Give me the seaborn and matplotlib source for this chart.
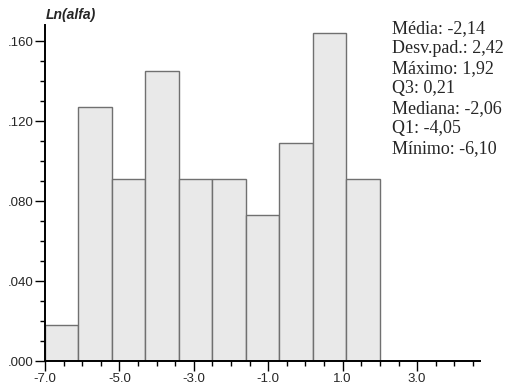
import matplotlib
matplotlib.use("Agg")
import matplotlib.pyplot as plt
import numpy as np
import seaborn as sns
from matplotlib.ticker import MultipleLocator, FuncFormatter

sns.set_theme(style="white")
plt.rcParams['font.family'] = ['Liberation Sans', 'DejaVu Sans']

# Histogram of Ln(alfa): bin edges and relative frequencies
bin_edges = [-7.0, -6.1, -5.2, -4.3, -3.4, -2.5, -1.6, -0.7, 0.2, 1.1, 2.0]
rel_freq = [0.018, 0.127, 0.091, 0.145, 0.091, 0.091, 0.073, 0.109, 0.164, 0.091]

stats_lines = [
    "Média: -2,14",
    "Desv.pad.: 2,42",
    "Máximo: 1,92",
    "Q3: 0,21",
    "Mediana: -2,06",
    "Q1: -4,05",
    "Mínimo: -6,10",
]

x_ticks = [-7.0, -5.0, -3.0, -1.0, 1.0, 3.0]
y_ticks = [0.0, 0.04, 0.08, 0.12, 0.16]

centers = [(a + b) / 2 for a, b in zip(bin_edges[:-1], bin_edges[1:])]

W, H = 511, 390
fig = plt.figure(figsize=(W / 100, H / 100), dpi=100)
ax = fig.add_axes([45 / W, 29 / H, (480 - 45) / W, (361 - 25) / H])

sns.histplot(x=centers, weights=rel_freq, bins=bin_edges, stat="count",
             color="#e9e9e9", edgecolor="#707070", linewidth=1.0, alpha=1.0,
             ax=ax)

ax.set_xlim(-7.0, 4.69)
ax.set_ylim(0, 0.168)

for side in ["top", "right"]:
    ax.spines[side].set_visible(False)
for side in ["left", "bottom"]:
    ax.spines[side].set_color("black")
    ax.spines[side].set_linewidth(1.4)

ax.set_xticks(x_ticks)
ax.xaxis.set_minor_locator(MultipleLocator(0.5))
ax.set_yticks(y_ticks)
ax.yaxis.set_minor_locator(MultipleLocator(0.01))
ax.xaxis.set_major_formatter(FuncFormatter(lambda v, p: f"{v:.1f}"))
ax.yaxis.set_major_formatter(FuncFormatter(lambda v, p: f"{v:.3f}".lstrip("0")))

ax.tick_params(axis="both", which="major", direction="out", length=7.5,
               width=1.0, color="black", labelsize=9.5, pad=1, bottom=True, left=True)
ax.tick_params(axis="both", which="minor", direction="out", length=3.5,
               width=1.0, color="black", bottom=True, left=True)
ax.set_xlabel("")
ax.set_ylabel("")

fig.text(46 / W, 1 - 15 / H, "Ln(alfa)", fontsize=10, fontweight="bold",
         fontstyle="italic", va="center", ha="left")

# Summary statistics, one line each, on the right
for i, line in enumerate(stats_lines):
    fig.text(392 / W, 1 - (33 + 20 * i) / H, line, fontsize=13,
             family=["Liberation Serif", "DejaVu Serif"], va="baseline", ha="left")

fig.savefig("out.png", dpi=100)
